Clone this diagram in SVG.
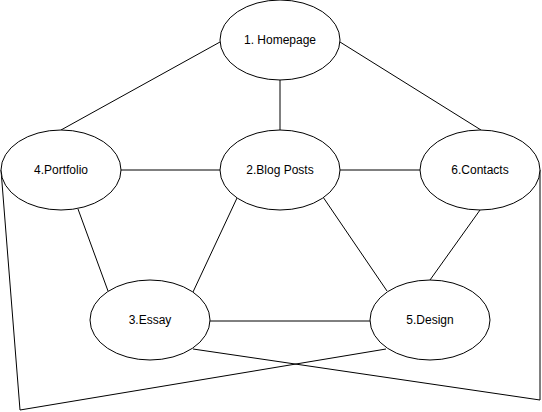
<svg xmlns="http://www.w3.org/2000/svg" width="542" height="412" viewBox="0 0 542 412">
<style>
.n ellipse{fill:#fff;stroke:#000;stroke-width:1}
.n text{font-family:"Liberation Sans",Arial,sans-serif;font-size:12px;fill:#000;text-anchor:middle;dominant-baseline:central}
#edges line,#edges polyline{stroke:#000;stroke-width:1;fill:none}
</style>
<rect width="542" height="412" fill="#fff"/>
<g id="edges">
<line x1="220" y1="42" x2="61" y2="130"/>
<line x1="280" y1="80" x2="280" y2="130"/>
<line x1="340" y1="42" x2="481" y2="130"/>
<line x1="120" y1="170" x2="220" y2="170"/>
<line x1="340" y1="170" x2="420" y2="170"/>
<line x1="78" y1="209" x2="108" y2="291"/>
<line x1="237" y1="198" x2="193" y2="292"/>
<line x1="323" y1="197" x2="387" y2="291"/>
<line x1="480" y1="210" x2="430" y2="280"/>
<line x1="210" y1="321" x2="370" y2="321"/>
<polyline points="1,170 20,410 386,349"/>
<polyline points="540,170 540,400 193,349"/>
</g>
<g id="n1" class="n"><ellipse cx="280" cy="40" rx="60" ry="40"/><text x="280" y="40">1. Homepage</text></g>
<g id="n2" class="n"><ellipse cx="280" cy="170" rx="60" ry="40"/><text x="280" y="170">2.Blog Posts</text></g>
<g id="n4" class="n"><ellipse cx="61" cy="170" rx="60" ry="40"/><text x="61" y="170">4.Portfolio</text></g>
<g id="n6" class="n"><ellipse cx="480" cy="170" rx="60" ry="40"/><text x="480" y="170">6.Contacts</text></g>
<g id="n3" class="n"><ellipse cx="150" cy="320" rx="60" ry="40"/><text x="150" y="320">3.Essay</text></g>
<g id="n5" class="n"><ellipse cx="430" cy="320" rx="60" ry="40"/><text x="430" y="320">5.Design</text></g>
</svg>
